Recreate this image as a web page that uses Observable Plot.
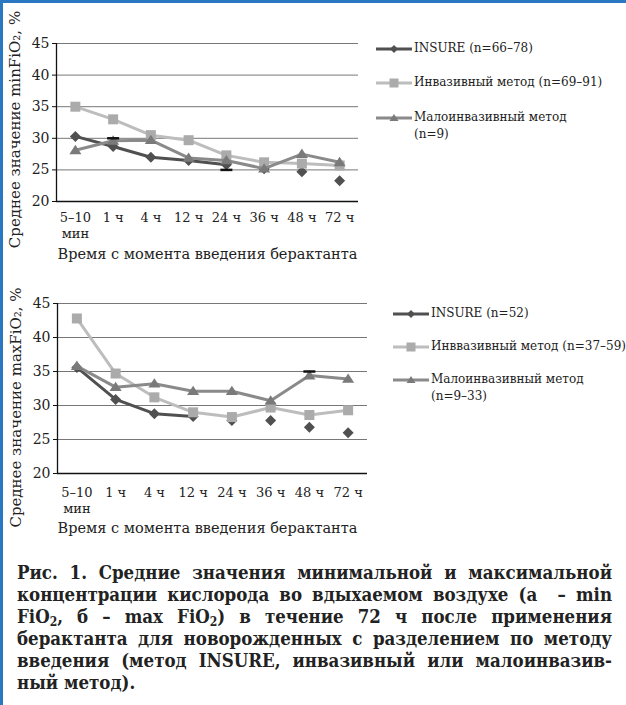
<!DOCTYPE html>
<html><head><meta charset="utf-8">
<script src="https://cdn.jsdelivr.net/npm/d3@7"></script>
<script src="https://cdn.jsdelivr.net/npm/@observablehq/plot@0.6"></script>
<style>
html,body{margin:0;padding:0;background:#fff;}
#wrap{position:relative;width:626px;height:705px;background:#fff;overflow:hidden;font-family:"DejaVu Serif",serif;color:#222;}
.abs{position:absolute;}
.leg{position:absolute;font-size:12px;line-height:17px;white-space:nowrap;color:#222;}
.leg svg{position:absolute;}
#cap{position:absolute;left:17px;top:562px;width:595px;font-family:"DejaVu Serif Condensed","DejaVu Serif",serif;font-stretch:condensed;font-weight:bold;font-size:18.5px;line-height:22px;color:#222;}
#cap div{text-align:justify;text-align-last:justify;white-space:nowrap;}
#cap div.last{text-align-last:left;}
#cap sub{font-size:0.65em;line-height:0;vertical-align:-3px;}
</style>
</head><body>
<div id="wrap">
  <div class="abs" style="left:0;top:0;width:3px;height:705px;background:#2a78c2"></div>
  <div class="abs" style="left:0;top:0;width:626px;height:3px;background:#2a78c2"></div>
  <div id="c1" class="abs" style="left:0;top:0"></div>
  <div id="c2" class="abs" style="left:0;top:260px"></div>
  <div id="l1"></div>
  <div id="l2"></div>
  <div id="cap">
    <div>Рис. 1. Средние значения минимальной и максимальной</div>
    <div>концентрации кислорода во вдыхаемом воздухе (а &nbsp;– min</div>
    <div>FiO<sub>2</sub>, б – max FiO<sub>2</sub>) в течение 72 ч после применения</div>
    <div>берактанта для новорожденных с разделением по методу</div>
    <div>введения (метод INSURE, инвазивный или малоинвазив-</div>
    <div class="last">ный метод).</div>
  </div>
</div>
<script>
// ---- data ----
const categories = ["5–10\nмин", "1 ч", "4 ч", "12 ч", "24 ч", "36 ч", "48 ч", "72 ч"];
const yTicks = [20, 25, 30, 35, 40, 45];

const minInsure   = [30.3, 28.7, 27.0, 26.5, 25.8, 25.2, 24.7, 23.3];
const minInvasive = [35.0, 33.0, 30.5, 29.7, 27.3, 26.2, 26.0, 25.7];
const minMini     = [28.1, 29.6, 29.7, 26.9, 26.5, 25.2, 27.5, 26.2];
const minInsureLinePoints = 5;
const minCaps = [{t: 1, v: 30}, {t: 4, v: 25}];

const maxInsure   = [35.6, 30.9, 28.8, 28.4, 27.8, 27.8, 26.8, 26.0];
const maxInvasive = [42.8, 34.7, 31.2, 29.0, 28.3, 29.7, 28.6, 29.3];
const maxMini     = [35.8, 32.7, 33.2, 32.1, 32.1, 30.7, 34.4, 33.9];
const maxInsureLinePoints = 4;
const maxCaps = [{t: 6, v: 35}];

const minLabels = ["INSURE (n=66–78)", "Инвазивный метод (n=69–91)", "Малоинвазивный метод\n(n=9)"];
const maxLabels = ["INSURE (n=52)", "Инввазивный метод (n=37–59)", "Малоинвазивный метод\n(n=9–33)"];
const yLabelMin = "Среднее значение minFiO₂, %";
const yLabelMax = "Среднее значение maxFiO₂, %";
const xLabel = "Время с момента введения берактанта";

// ---- styles ----
const colInsure = "#505050", colInv = "#bdbdbd", colInvDot = "#ababab", colMini = "#8a8a8a", colMiniDot = "#7a7a7a";
const diamondSym = {draw(ctx, size){ const r = Math.sqrt(size/Math.PI)*1.1; ctx.moveTo(0,-r); ctx.lineTo(r,0); ctx.lineTo(0,r); ctx.lineTo(-r,0); ctx.closePath(); }};
const squareSym  = {draw(ctx, size){ const r = Math.sqrt(size/Math.PI); ctx.rect(-r,-r,2*r,2*r); }};
const triSym     = {draw(ctx, size){ const r = Math.sqrt(size/Math.PI); ctx.moveTo(0,-r); ctx.lineTo(r*1.1,r*0.7); ctx.lineTo(-r*1.1,r*0.7); ctx.closePath(); }};
const capSym     = {draw(ctx, size){ const r = Math.sqrt(size/Math.PI); ctx.moveTo(-r,0); ctx.lineTo(r,0); }};

function chart(ins, inv, mini, insN, caps, yLabel, o) {
  const idx = categories.map((_, i) => i);
  const rIns = idx.map(i => ({t: i, v: ins[i]}));
  const rInv = idx.map(i => ({t: i, v: inv[i]}));
  const rMini = idx.map(i => ({t: i, v: mini[i]}));
  return Plot.plot({
    width: o.width, height: o.height,
    marginLeft: o.ml, marginRight: o.mr, marginTop: o.mt, marginBottom: o.mb,
    style: {fontFamily: "DejaVu Serif", fontSize: "13px", color: "#222", background: "transparent", overflow: "visible"},
    x: {type: "linear", domain: [-0.5, categories.length - 0.5]},
    y: {domain: [20, 45]},
    marks: [
      Plot.gridY(yTicks.filter(v => v > 20), {stroke: "#777", strokeOpacity: 1, strokeWidth: 1}),
      Plot.ruleY([20], {stroke: "#111", strokeWidth: 1.3}),
      Plot.ruleX([-0.5], {stroke: "#111", strokeWidth: 1.3}),
      Plot.axisY(yTicks, {tickSize: 4, tickPadding: 3, label: null, stroke: "#111", fontSize: 14}),
      Plot.axisX(idx, {tickSize: 0, tickPadding: o.tp, tickFormat: i => categories[i], label: null, lineHeight: 1.25}),
      Plot.text([yLabel], {text: d => d, frameAnchor: "left", textAnchor: "middle", lineAnchor: "middle", rotate: -90, dx: -41, dy: o.ldy, fontSize: 15}),
      Plot.text([xLabel], {text: d => d, frameAnchor: "bottom", textAnchor: "middle", lineAnchor: "middle", dy: o.xdy, dx: o.xdx, fontSize: 14.5}),
      Plot.line(rIns.filter(d => d.t < insN), {x: "t", y: "v", stroke: colInsure, strokeWidth: 3}),
      Plot.dot(rIns, {x: "t", y: "v", symbol: diamondSym, r: 5, fill: colInsure}),
      Plot.line(rInv, {x: "t", y: "v", stroke: colInv, strokeWidth: 3}),
      Plot.dot(rInv, {x: "t", y: "v", symbol: squareSym, r: 5, fill: colInvDot}),
      Plot.line(rMini, {x: "t", y: "v", stroke: colMini, strokeWidth: 3}),
      Plot.dot(rMini, {x: "t", y: "v", symbol: triSym, r: 5.5, fill: colMiniDot}),
      Plot.dot(caps, {x: "t", y: "v", symbol: capSym, r: 6, stroke: "#111", strokeWidth: 2.5, fill: "none"})
    ]
  });
}

document.getElementById("c1").appendChild(
  chart(minInsure, minInvasive, minMini, minInsureLinePoints, minCaps, yLabelMin,
    {width: 360, height: 265, ml: 56, mr: 2, mt: 43, mb: 64, tp: 9, ldy: 7, xdy: 53, xdx: 0}));
document.getElementById("c2").appendChild(
  chart(maxInsure, maxInvasive, maxMini, maxInsureLinePoints, maxCaps, yLabelMax,
    {width: 368, height: 275, ml: 57, mr: 1, mt: 43, mb: 62, tp: 12, ldy: 19, xdy: 55, xdx: -5}));

function legend(el, labels, x, ys) {
  const specs = [
    {line: colInsure, fill: colInsure, sym: "diamond"},
    {line: colInv, fill: colInvDot, sym: "square"},
    {line: colMini, fill: colMiniDot, sym: "tri"}
  ];
  labels.forEach((lab, i) => {
    const s = specs[i];
    const d = document.createElement("div");
    d.className = "leg";
    d.style.left = x + "px";
    d.style.top = (ys[i] - 9) + "px";
    let mk = "";
    if (s.sym === "diamond") mk = `<path d="M18,2L22,6L18,10L14,6Z" fill="${s.fill}"/>`;
    if (s.sym === "square") mk = `<rect x="13.5" y="1.5" width="9" height="9" fill="${s.fill}"/>`;
    if (s.sym === "tri") mk = `<path d="M18,2L22.5,9L13.5,9Z" fill="${s.fill}"/>`;
    d.innerHTML = `<svg width="36" height="12" style="left:0;top:3px"><line x1="0" x2="36" y1="6" y2="6" stroke="${s.line}" stroke-width="3"/>${mk}</svg>`
      + `<div style="position:absolute;left:38px;top:0">${lab.replace("\n", "<br>")}</div>`;
    el.appendChild(d);
  });
}
legend(document.getElementById("l1"), minLabels, 376, [49, 83, 118]);
legend(document.getElementById("l2"), maxLabels, 393, [314, 347, 380]);

// fit caption font so every line fits its width
(function fitCaption(){
  const cap = document.getElementById("cap");
  const lines = [...cap.querySelectorAll("div")];
  let fs = 18.5;
  const fits = () => lines.every(l => {
    const r = document.createRange(); r.selectNodeContents(l);
    return r.getBoundingClientRect().width <= 594;
  });
  lines.forEach(l => l.style.textAlignLast = "left");
  while (fs > 14 && !fits()) { fs -= 0.25; cap.style.fontSize = fs + "px"; }
  lines.forEach(l => l.style.textAlignLast = "");
})();
</script>
</body></html>
